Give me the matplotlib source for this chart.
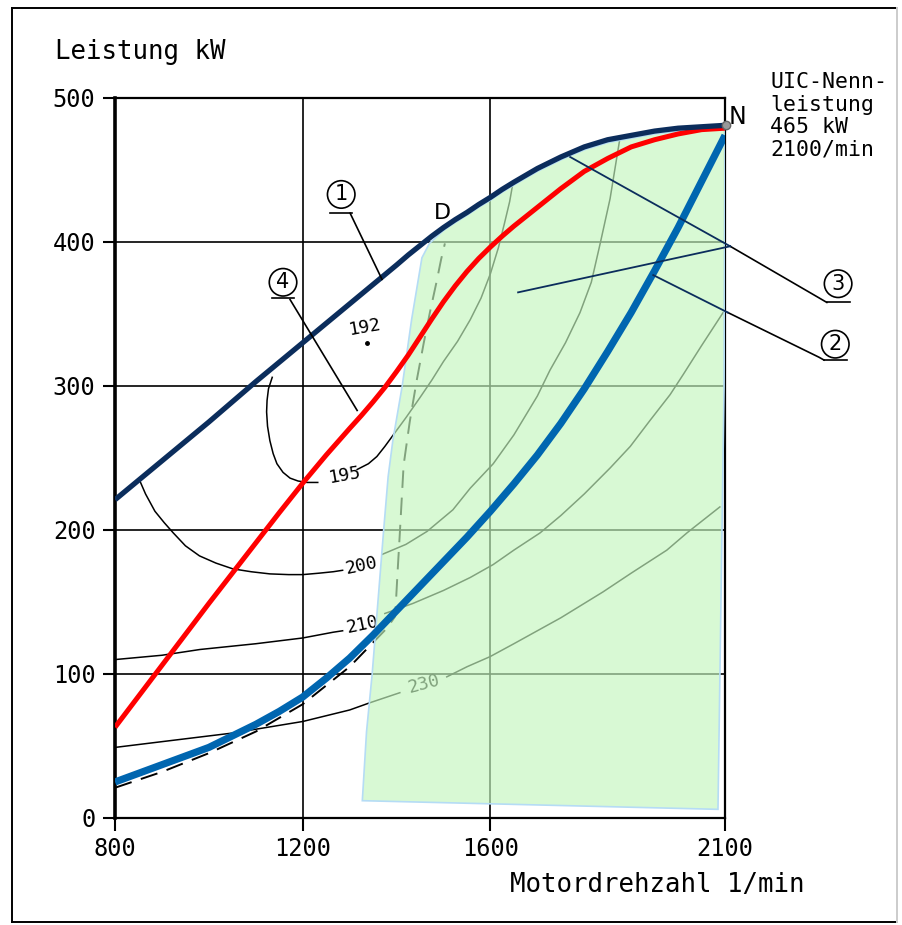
import numpy as np
import matplotlib
matplotlib.use('Agg')
import matplotlib.pyplot as plt
from matplotlib.patches import Polygon
from matplotlib.lines import Line2D

# curve 1: full-load power (navy)
rpm_1 = [800, 900, 1000, 1100, 1200, 1300, 1400, 1425, 1450, 1475, 1500, 1525,
         1550, 1575, 1600, 1625, 1650, 1700, 1750, 1800, 1850, 1900, 1950,
         2000, 2050, 2100]
kw_1 = [221, 248, 275, 303, 330, 357, 384, 391, 397.5, 404, 410, 415.5,
        420.5, 426, 431, 436.5, 441.5, 451, 459, 466, 471, 474, 477,
        479, 480, 481]

# curve 4 (red)
rpm_4 = [800, 900, 1000, 1100, 1150, 1200, 1250, 1300, 1325, 1350, 1375, 1400,
         1425, 1450, 1475, 1500, 1525, 1550, 1575, 1600, 1625, 1650, 1700,
         1750, 1800, 1850, 1900, 1950, 2000, 2050, 2100]
kw_4 = [63, 106, 149, 191, 212, 232.5, 252, 270.5, 279.5, 289, 299, 310,
        321.5, 334, 346.5, 358.5, 369.5, 379.5, 388.5, 396.5, 404, 411, 424,
        437, 449, 458, 466, 471, 475, 478, 479]

# curve 2 (blue)
rpm_2 = [800, 850, 900, 950, 1000, 1050, 1100, 1150, 1200, 1250, 1300, 1350,
         1400, 1450, 1500, 1550, 1600, 1650, 1700, 1750, 1800, 1850, 1900,
         1950, 2000, 2050, 2100]
kw_2 = [25, 31, 37, 43, 49, 57, 65, 74, 84, 97, 111, 127,
        144, 161, 178, 195, 213, 232, 252, 274, 298, 324, 351,
        380, 410, 442, 474]

# dashed limit line
rpm_d = [800, 900, 1000, 1100, 1200, 1300, 1380, 1397, 1402, 1407, 1415, 1428,
         1443, 1458, 1471, 1485, 1495, 1503]
kw_d = [21, 32, 45, 60, 79, 105, 132, 140, 170, 198, 245, 275,
        304, 330, 351, 372, 388, 399]

# fuel consumption contours g/kWh (segments split at the labels)
c195_a = ([1135, 1127, 1124, 1123, 1125, 1130, 1137, 1145, 1158, 1173, 1190,
           1209, 1232],
          [306, 298, 290, 282, 272, 262, 253, 246, 240, 236, 234, 233, 233])
c195_b = ([1316, 1340, 1358, 1375, 1393, 1420, 1450, 1475, 1500, 1530, 1557,
           1580, 1600, 1617, 1630, 1641, 1648],
          [242, 246, 251, 258, 266, 278, 292, 304, 317, 331, 346,
           361, 378, 396, 413, 428, 441])
c200_a = ([853, 865, 885, 905, 924, 950, 980, 1015, 1051, 1090, 1130, 1170,
           1200, 1235, 1265, 1285],
          [234, 225, 213, 205, 198, 189, 182, 177, 173, 171, 169.5, 169,
           169, 170, 171, 172])
c200_b = ([1369, 1420, 1465, 1520, 1557, 1606, 1650, 1700, 1727, 1760, 1791,
           1815, 1834, 1855, 1870, 1876],
          [183, 190, 199, 214, 229, 246, 266, 293, 311, 330, 351,
           372, 399, 430, 460, 472])
c210_a = ([800, 900, 981, 1100, 1200, 1265, 1285],
          [110, 113, 117, 121, 125, 129, 130])
c210_b = ([1375, 1435, 1500, 1557, 1606, 1650, 1706, 1750, 1800, 1855, 1898,
           1940, 1983, 2011, 2050, 2096],
          [142, 149, 158, 167, 176, 186, 198, 210, 225, 243, 258,
           276, 294, 308, 328, 351])
c230_a = ([800, 900, 1051, 1200, 1300, 1343, 1407],
          [49, 53, 59, 67, 75, 80, 87])
c230_b = ([1507, 1550, 1599, 1650, 1700, 1750, 1800, 1840, 1900, 1976, 2019,
           2089],
          [98, 105, 112, 121, 130, 139, 149, 157, 170, 186, 198, 216])

# green operating field
field_x = [1327, 1336, 1348, 1372, 1382, 1392, 1412, 1432, 1454, 1470]
field_y = [12, 60, 100, 198, 237, 262, 300, 346, 389, 399]
field_right_x = [2098, 2085]
field_right_y = [300, 6]

x_ticks = [800, 1200, 1600, 2100]
y_ticks = [0, 100, 200, 300, 400, 500]

NAVY = '#0b2d5c'
RED = '#ff0000'
BLUE = '#0066b0'
FONT = 'DejaVu Sans Mono'

fig = plt.figure(figsize=(9.03, 9.25), dpi=100)
ax = fig.add_axes([0.1274, 0.1157, 0.6755, 0.7784])
ax.set_xlim(800, 2100)
ax.set_ylim(0, 500)

ax.set_xticks(x_ticks)
ax.set_yticks(y_ticks)
ax.tick_params(direction='out', length=9, width=1.5, pad=5, labelsize=17)
for lab in ax.get_xticklabels() + ax.get_yticklabels():
    lab.set_family(FONT)
for s in ax.spines.values():
    s.set_linewidth(1.6)
ax.spines['left'].set_linewidth(2.6)

for gx in [1200, 1600]:
    ax.axvline(gx, color='black', lw=1.2, zorder=1)
for gy in [100, 200, 300, 400]:
    ax.axhline(gy, color='black', lw=1.2, zorder=1)

# contours
for cx, cy in [c195_a, c195_b, c200_a, c200_b, c210_a, c210_b, c230_a, c230_b]:
    ax.plot(cx, cy, color='black', lw=1.1, zorder=1.5)
ax.plot(rpm_d, kw_d, color='black', lw=1.4, ls=(0, (9, 5)), zorder=1.5)

lbl = dict(family=FONT, fontsize=13, ha='center', va='center', zorder=1.5)
ax.text(1290, 238, '195', rotation=10, **lbl)
ax.text(1325, 175, '200', rotation=12, **lbl)
ax.text(1328, 134, '210', rotation=12, **lbl)
ax.text(1458, 93, '230', rotation=15, **lbl)
ax.text(1333, 341, '192', rotation=10, **lbl)
ax.plot([1337], [330], 'o', color='black', ms=2.5, zorder=1.5)

# operating field overlay
top_x = [x for x in rpm_1 if x >= 1500]
top_y = [y - 2 for x, y in zip(rpm_1, kw_1) if x >= 1500]
poly_x = field_x + top_x + field_right_x
poly_y = field_y + top_y + field_right_y
field = Polygon(np.column_stack([poly_x, poly_y]), closed=True,
                facecolor=(197 / 255, 247 / 255, 191 / 255), alpha=0.66,
                edgecolor='none', zorder=3)
ax.add_patch(field)
ax.add_patch(Polygon(np.column_stack([poly_x, poly_y]), closed=True,
                     fill=False, edgecolor='#b5dcf5', lw=1.2, zorder=3.1))

# main curves
ax.plot(rpm_1, kw_1, color=NAVY, lw=3.8, zorder=5, solid_capstyle='butt',
        solid_joinstyle='round')
ax.plot(rpm_4, kw_4, color=RED, lw=3.6, zorder=4.8, solid_capstyle='butt',
        solid_joinstyle='round')
ax.plot(rpm_2, kw_2, color=BLUE, lw=5.2, zorder=5.2, solid_capstyle='butt',
        solid_joinstyle='round')
ax.plot([2103], [481], 'o', ms=6, mfc='#999999', mec='#666666', zorder=6,
        clip_on=False)


def circ_label(x, y, s):
    ax.text(x, y, s, family='DejaVu Sans', fontsize=15, ha='center',
            va='center', zorder=7, clip_on=False,
            bbox=dict(boxstyle='circle,pad=0.18', fc='white', ec='black',
                      lw=1.2))


def lead(xs, ys, color='black', lw=1.2):
    ax.plot(xs, ys, color=color, lw=lw, zorder=6, clip_on=False)


circ_label(1282, 433, '1')
lead([1258, 1305], [420, 420])
lead([1301, 1369], [420, 374])

circ_label(1158, 372, '4')
lead([1135, 1182], [361, 361])
lead([1173, 1316], [360, 283])

circ_label(2341, 371, '3')
lead([2317, 2366], [358, 358])
lead([2111, 2296, 2317], [397, 362, 358])
lead([2111, 1770], [397, 459], color=NAVY, lw=1.3)
lead([2111, 1659], [397, 365], color=NAVY, lw=1.3)

circ_label(2335, 329, '2')
lead([2311, 2360], [318, 318])
lead([2106, 2300, 2311], [351, 320, 318])
lead([2106, 1947], [351, 377], color=NAVY, lw=1.3)

ax.text(1497, 420, 'D', family='DejaVu Sans', fontsize=16, ha='center',
        va='center', zorder=7)
ax.text(2108, 487, 'N', family='DejaVu Sans', fontsize=17, ha='left',
        va='center', zorder=7, clip_on=False)

fig.text(0.061, 0.944, 'Leistung kW', family=FONT, fontsize=18.5,
         ha='left', va='center')
fig.text(0.565, 0.043, 'Motordrehzahl 1/min', family=FONT, fontsize=18.5,
         ha='left', va='center')
fig.text(0.853, 0.922, 'UIC-Nenn-\nleistung\n465 kW\n2100/min', family=FONT,
         fontsize=15.5, ha='left', va='top', linespacing=1.15)

# scanned page frame
fl, fr, fb, ft = 12 / 903, 897 / 903, 1 - 922 / 925, 1 - 8 / 925
for xs, ys, c in [([fl, fl], [fb, ft], 'black'), ([fl, fr], [ft, ft], 'black'),
                  ([fl, fr], [fb, fb], 'black'), ([fr, fr], [fb, ft], '#cccccc')]:
    fig.add_artist(Line2D(xs, ys, transform=fig.transFigure, color=c, lw=1.4))

fig.savefig('out.png', dpi=100, facecolor='white')
